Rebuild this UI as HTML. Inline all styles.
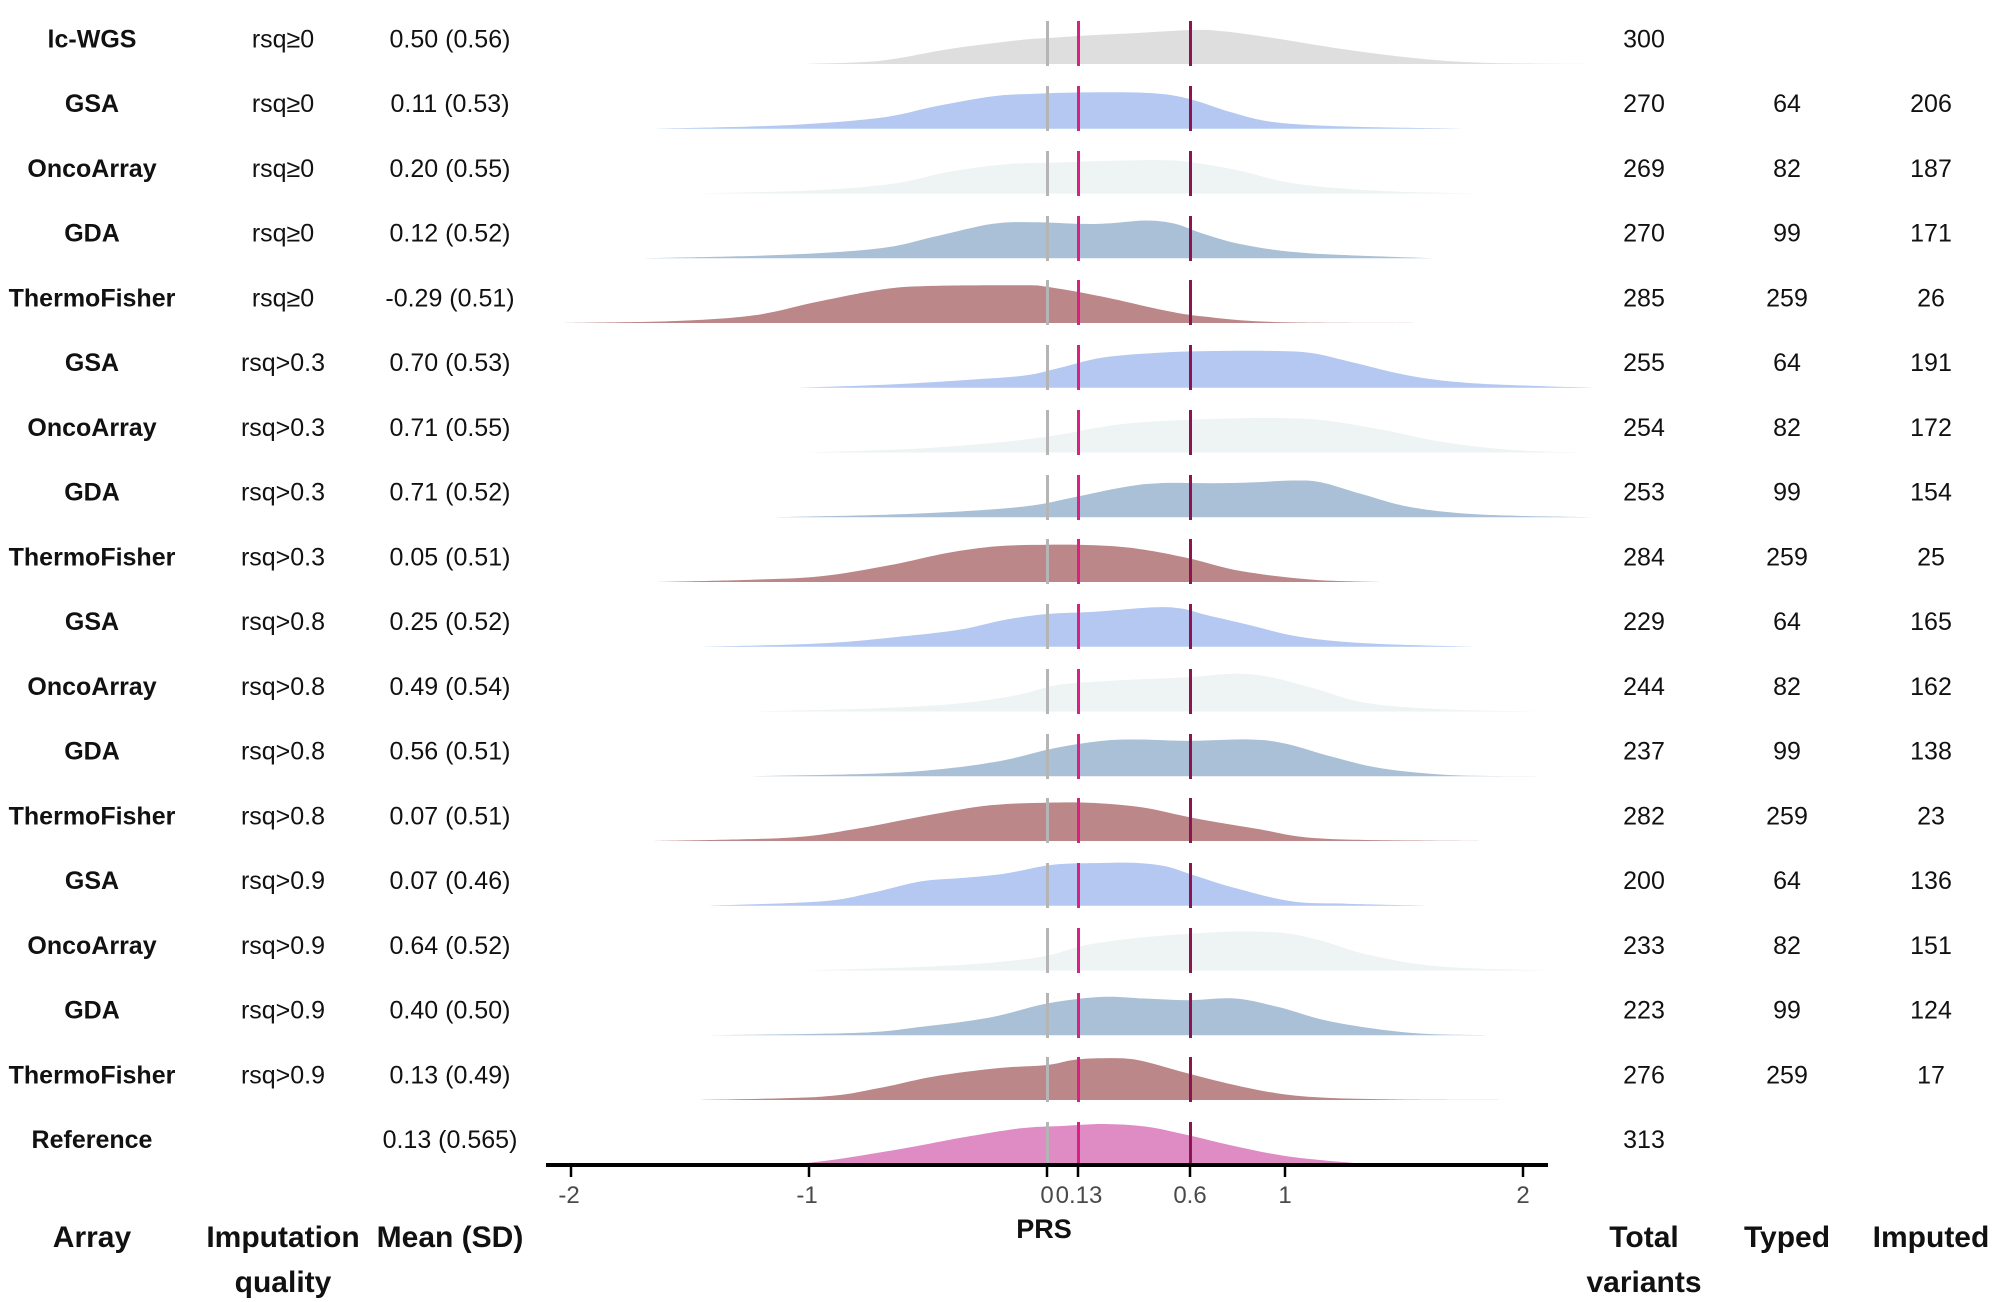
<!DOCTYPE html>
<html>
<head>
<meta charset="utf-8">
<style>
html,body{margin:0;padding:0;background:#fff;}
svg{display:block;}
text{font-family:"Liberation Sans",Arial,sans-serif;fill:#111;}
.lab{font-size:25px;font-weight:bold;text-anchor:middle;}
.val{font-size:25px;text-anchor:middle;}
.hdr{font-size:30px;font-weight:bold;text-anchor:middle;}
.tick{font-size:24px;text-anchor:middle;fill:#4a4a4a;}
</style>
</head>
<body>
<svg id="chart" width="2000" height="1302" viewBox="0 0 2000 1302" xmlns="http://www.w3.org/2000/svg">
<rect width="2000" height="1302" fill="#fff"/>

<g transform="translate(1047,64) scale(238,1)"><polygon class="r" fill="#dedede" points="-1.03,0 -0.70,-3.3 -0.41,-15 -0.11,-24 0.005,-26 0.15,-28.3 0.36,-30.7 0.61,-34 0.74,-32.7 0.95,-26 1.24,-15 1.54,-6 1.83,-1.3 2.33,0"/></g>
<g transform="translate(1047,128.7) scale(238,1)"><polygon class="r" fill="#b4c8f2" points="-1.645,0 -1.115,-3.3 -0.70,-11 -0.47,-22.3 -0.23,-32.3 -0.05,-35 0.15,-36.3 0.36,-36.3 0.5,-34.3 0.62,-28.3 0.77,-16.7 0.95,-6.7 1.24,-2.3 1.74,0"/></g>
<g transform="translate(1047,193.5) scale(238,1)"><polygon class="r" fill="#eef3f3" points="-1.47,0 -0.97,-3.3 -0.64,-10 -0.41,-21.7 -0.17,-29.3 0.06,-31 0.27,-32.7 0.48,-33.3 0.59,-31.7 0.80,-23.3 1.04,-10 1.39,-2.7 1.83,0"/></g>
<g transform="translate(1047,258.2) scale(238,1)"><polygon class="r" fill="#a9c0d6" points="-1.70,0 -1.115,-3.3 -0.70,-10 -0.47,-21.7 -0.23,-34.3 -0.05,-36 0.15,-34.3 0.27,-35 0.42,-37.7 0.54,-34.3 0.65,-25 0.83,-13.3 1.10,-5 1.62,0"/></g>
<g transform="translate(1047,323) scale(238,1)"><polygon class="r" fill="#bc8788" points="-2.03,0 -1.56,-2 -1.23,-7.7 -0.97,-21 -0.70,-33.3 -0.50,-37 -0.11,-37.7 0.005,-36 0.24,-26 0.48,-13.3 0.65,-6.7 0.95,-1 1.54,0"/></g>
<g transform="translate(1047,387.7) scale(238,1)"><polygon class="r" fill="#b4c8f2" points="-1.04,0 -0.65,-3.3 -0.30,-8.3 -0.09,-12.3 0.055,-20 0.23,-30 0.47,-35 0.70,-36.7 0.97,-36.7 1.12,-34.3 1.29,-25 1.53,-11.7 1.76,-5 2.06,-1.7 2.30,0"/></g>
<g transform="translate(1047,452.5) scale(238,1)"><polygon class="r" fill="#eef3f3" points="-1.01,0 -0.59,-3.3 -0.24,-9.3 0.025,-16.7 0.29,-27.7 0.53,-32 0.82,-34.3 1.0,-34.3 1.17,-32 1.41,-22.7 1.65,-11 1.94,-2.7 2.24,0"/></g>
<g transform="translate(1047,517.2) scale(238,1)"><polygon class="r" fill="#a9c0d6" points="-1.15,0 -0.65,-2.7 -0.30,-6.7 -0.063,-11.7 0.114,-20 0.32,-30 0.47,-34 0.70,-34 0.88,-35 1.03,-36.7 1.15,-35 1.32,-23.3 1.53,-10 1.82,-2.7 2.30,0"/></g>
<g transform="translate(1047,582) scale(238,1)"><polygon class="r" fill="#bc8788" points="-1.65,0 -1.24,-2.3 -0.95,-5.7 -0.65,-17.3 -0.42,-29 -0.21,-35.7 0,-37.3 0.20,-36.7 0.38,-33.3 0.59,-24 0.82,-10.7 1.12,-2.3 1.41,0"/></g>
<g transform="translate(1047,646.7) scale(238,1)"><polygon class="r" fill="#b4c8f2" points="-1.45,0 -0.95,-3.3 -0.59,-10.7 -0.36,-17.3 -0.18,-26.7 0,-32.7 0.20,-35 0.44,-39.3 0.56,-38.3 0.67,-31.7 0.85,-21.7 1.06,-10 1.35,-3.3 1.79,0"/></g>
<g transform="translate(1047,711.5) scale(238,1)"><polygon class="r" fill="#eef3f3" points="-1.24,0 -0.71,-3.3 -0.36,-8.3 -0.12,-16.7 0.05,-26.7 0.29,-31 0.59,-34.3 0.79,-37.7 0.94,-34.3 1.12,-23.3 1.35,-8.3 1.71,-1.7 2.12,0"/></g>
<g transform="translate(1047,776.2) scale(238,1)"><polygon class="r" fill="#a9c0d6" points="-1.24,0 -0.71,-2.7 -0.42,-7.7 -0.18,-16 0.025,-27.7 0.23,-35.3 0.38,-36.7 0.59,-35.3 0.85,-36.7 1.0,-32.7 1.20,-19.3 1.41,-7.7 1.71,-1 2.06,0"/></g>
<g transform="translate(1047,841) scale(238,1)"><polygon class="r" fill="#bc8788" points="-1.65,0 -1.09,-3.3 -0.80,-12.3 -0.50,-25.7 -0.24,-35.7 0,-38.3 0.20,-38 0.41,-33.3 0.61,-23.3 0.88,-12.3 1.17,-2.3 1.85,0"/></g>
<g transform="translate(1047,905.7) scale(238,1)"><polygon class="r" fill="#b4c8f2" points="-1.42,0 -0.95,-4.3 -0.74,-12.7 -0.53,-24.3 -0.36,-27.7 -0.18,-32 0.025,-41 0.23,-42.7 0.38,-42.7 0.50,-39.3 0.61,-31 0.79,-17.7 1.03,-4.3 1.26,-2 1.59,0"/></g>
<g transform="translate(1047,970.5) scale(238,1)"><polygon class="r" fill="#eef3f3" points="-1.01,0 -0.48,-4 -0.18,-9 0,-14.7 0.17,-25.7 0.41,-33.3 0.64,-37.3 0.82,-39 1.0,-37.3 1.15,-30 1.35,-15.7 1.65,-4 2.12,0"/></g>
<g transform="translate(1047,1035.2) scale(238,1)"><polygon class="r" fill="#a9c0d6" points="-1.42,0 -0.80,-2.3 -0.53,-8.3 -0.24,-17.7 0,-31.7 0.23,-38.3 0.41,-36.7 0.59,-35 0.79,-36.7 0.97,-28.3 1.20,-13.3 1.53,-2.3 1.85,0"/></g>
<g transform="translate(1047,1100) scale(238,1)"><polygon class="r" fill="#bc8788" points="-1.48,0 -0.95,-3.3 -0.71,-11.7 -0.48,-23.3 -0.21,-31.7 0,-35 0.11,-40 0.23,-41.7 0.38,-40 0.59,-26.7 0.82,-13.3 1.06,-4 1.41,-0.7 2.0,0"/></g>
<g transform="translate(1047,1165) scale(238,1)"><polygon class="r" fill="#df8cc5" points="-1.32,0 -1.0,-2.3 -0.64,-15 -0.35,-27.7 -0.11,-36.7 0.06,-39 0.24,-41 0.42,-38.3 0.59,-30 0.80,-18.3 1.04,-7.7 1.39,0"/></g>

<g stroke-width="3">
<g stroke="#b5b5b5">
<line x1="1047.5" x2="1047.5" y1="21" y2="66"/><line x1="1047.5" x2="1047.5" y1="86" y2="131"/><line x1="1047.5" x2="1047.5" y1="151" y2="196"/><line x1="1047.5" x2="1047.5" y1="216" y2="261"/><line x1="1047.5" x2="1047.5" y1="280" y2="325"/><line x1="1047.5" x2="1047.5" y1="345" y2="390"/><line x1="1047.5" x2="1047.5" y1="410" y2="455"/><line x1="1047.5" x2="1047.5" y1="475" y2="520"/><line x1="1047.5" x2="1047.5" y1="539" y2="584"/><line x1="1047.5" x2="1047.5" y1="604" y2="649"/><line x1="1047.5" x2="1047.5" y1="669" y2="714"/><line x1="1047.5" x2="1047.5" y1="734" y2="779"/><line x1="1047.5" x2="1047.5" y1="798" y2="843"/><line x1="1047.5" x2="1047.5" y1="863" y2="908"/><line x1="1047.5" x2="1047.5" y1="928" y2="973"/><line x1="1047.5" x2="1047.5" y1="993" y2="1038"/><line x1="1047.5" x2="1047.5" y1="1057" y2="1102"/><line x1="1047.5" x2="1047.5" y1="1122" y2="1165"/>
</g>
<g stroke="#dc1f85">
<line x1="1078.5" x2="1078.5" y1="21" y2="66"/><line x1="1078.5" x2="1078.5" y1="86" y2="131"/><line x1="1078.5" x2="1078.5" y1="151" y2="196"/><line x1="1078.5" x2="1078.5" y1="216" y2="261"/><line x1="1078.5" x2="1078.5" y1="280" y2="325"/><line x1="1078.5" x2="1078.5" y1="345" y2="390"/><line x1="1078.5" x2="1078.5" y1="410" y2="455"/><line x1="1078.5" x2="1078.5" y1="475" y2="520"/><line x1="1078.5" x2="1078.5" y1="539" y2="584"/><line x1="1078.5" x2="1078.5" y1="604" y2="649"/><line x1="1078.5" x2="1078.5" y1="669" y2="714"/><line x1="1078.5" x2="1078.5" y1="734" y2="779"/><line x1="1078.5" x2="1078.5" y1="798" y2="843"/><line x1="1078.5" x2="1078.5" y1="863" y2="908"/><line x1="1078.5" x2="1078.5" y1="928" y2="973"/><line x1="1078.5" x2="1078.5" y1="993" y2="1038"/><line x1="1078.5" x2="1078.5" y1="1057" y2="1102"/><line x1="1078.5" x2="1078.5" y1="1122" y2="1165"/>
</g>
<g stroke="#8c1450">
<line x1="1190.5" x2="1190.5" y1="21" y2="66"/><line x1="1190.5" x2="1190.5" y1="86" y2="131"/><line x1="1190.5" x2="1190.5" y1="151" y2="196"/><line x1="1190.5" x2="1190.5" y1="216" y2="261"/><line x1="1190.5" x2="1190.5" y1="280" y2="325"/><line x1="1190.5" x2="1190.5" y1="345" y2="390"/><line x1="1190.5" x2="1190.5" y1="410" y2="455"/><line x1="1190.5" x2="1190.5" y1="475" y2="520"/><line x1="1190.5" x2="1190.5" y1="539" y2="584"/><line x1="1190.5" x2="1190.5" y1="604" y2="649"/><line x1="1190.5" x2="1190.5" y1="669" y2="714"/><line x1="1190.5" x2="1190.5" y1="734" y2="779"/><line x1="1190.5" x2="1190.5" y1="798" y2="843"/><line x1="1190.5" x2="1190.5" y1="863" y2="908"/><line x1="1190.5" x2="1190.5" y1="928" y2="973"/><line x1="1190.5" x2="1190.5" y1="993" y2="1038"/><line x1="1190.5" x2="1190.5" y1="1057" y2="1102"/><line x1="1190.5" x2="1190.5" y1="1122" y2="1165"/>
</g>
</g>

<line x1="546" x2="1548" y1="1165" y2="1165" stroke="#000" stroke-width="4"/>
<g stroke="#000" stroke-width="2.5">
<line x1="571" x2="571" y1="1165" y2="1177"/>
<line x1="809" x2="809" y1="1165" y2="1177"/>
<line x1="1047" x2="1047" y1="1165" y2="1177"/>
<line x1="1078" x2="1078" y1="1165" y2="1177"/>
<line x1="1190" x2="1190" y1="1165" y2="1177"/>
<line x1="1285" x2="1285" y1="1165" y2="1177"/>
<line x1="1523" x2="1523" y1="1165" y2="1177"/>
</g>
<text class="tick" x="569" y="1203">-2</text>
<text class="tick" x="807" y="1203">-1</text>
<text class="tick" x="1047" y="1203">0</text>
<text class="tick" x="1079" y="1203">0.13</text>
<text class="tick" x="1190" y="1203">0.6</text>
<text class="tick" x="1285" y="1203">1</text>
<text class="tick" x="1523" y="1203">2</text>
<text x="1044" y="1238" style="font-size:27px;font-weight:bold;text-anchor:middle;">PRS</text>

<text class="lab" x="92" y="47.3">lc-WGS</text>
<text class="lab" x="92" y="112">GSA</text>
<text class="lab" x="92" y="176.8">OncoArray</text>
<text class="lab" x="92" y="241.5">GDA</text>
<text class="lab" x="92" y="306.3">ThermoFisher</text>
<text class="lab" x="92" y="371">GSA</text>
<text class="lab" x="92" y="435.8">OncoArray</text>
<text class="lab" x="92" y="500.5">GDA</text>
<text class="lab" x="92" y="565.3">ThermoFisher</text>
<text class="lab" x="92" y="630">GSA</text>
<text class="lab" x="92" y="694.8">OncoArray</text>
<text class="lab" x="92" y="759.5">GDA</text>
<text class="lab" x="92" y="824.3">ThermoFisher</text>
<text class="lab" x="92" y="889">GSA</text>
<text class="lab" x="92" y="953.8">OncoArray</text>
<text class="lab" x="92" y="1018.5">GDA</text>
<text class="lab" x="92" y="1083.3">ThermoFisher</text>
<text class="lab" x="92" y="1148">Reference</text>

<text class="val" x="283" y="47.3">rsq≥0</text>
<text class="val" x="283" y="112">rsq≥0</text>
<text class="val" x="283" y="176.8">rsq≥0</text>
<text class="val" x="283" y="241.5">rsq≥0</text>
<text class="val" x="283" y="306.3">rsq≥0</text>
<text class="val" x="283" y="371">rsq&gt;0.3</text>
<text class="val" x="283" y="435.8">rsq&gt;0.3</text>
<text class="val" x="283" y="500.5">rsq&gt;0.3</text>
<text class="val" x="283" y="565.3">rsq&gt;0.3</text>
<text class="val" x="283" y="630">rsq&gt;0.8</text>
<text class="val" x="283" y="694.8">rsq&gt;0.8</text>
<text class="val" x="283" y="759.5">rsq&gt;0.8</text>
<text class="val" x="283" y="824.3">rsq&gt;0.8</text>
<text class="val" x="283" y="889">rsq&gt;0.9</text>
<text class="val" x="283" y="953.8">rsq&gt;0.9</text>
<text class="val" x="283" y="1018.5">rsq&gt;0.9</text>
<text class="val" x="283" y="1083.3">rsq&gt;0.9</text>

<text class="val" x="450" y="47.3">0.50 (0.56)</text>
<text class="val" x="450" y="112">0.11 (0.53)</text>
<text class="val" x="450" y="176.8">0.20 (0.55)</text>
<text class="val" x="450" y="241.5">0.12 (0.52)</text>
<text class="val" x="450" y="306.3">-0.29 (0.51)</text>
<text class="val" x="450" y="371">0.70 (0.53)</text>
<text class="val" x="450" y="435.8">0.71 (0.55)</text>
<text class="val" x="450" y="500.5">0.71 (0.52)</text>
<text class="val" x="450" y="565.3">0.05 (0.51)</text>
<text class="val" x="450" y="630">0.25 (0.52)</text>
<text class="val" x="450" y="694.8">0.49 (0.54)</text>
<text class="val" x="450" y="759.5">0.56 (0.51)</text>
<text class="val" x="450" y="824.3">0.07 (0.51)</text>
<text class="val" x="450" y="889">0.07 (0.46)</text>
<text class="val" x="450" y="953.8">0.64 (0.52)</text>
<text class="val" x="450" y="1018.5">0.40 (0.50)</text>
<text class="val" x="450" y="1083.3">0.13 (0.49)</text>
<text class="val" x="450" y="1148">0.13 (0.565)</text>

<text class="val" x="1644" y="47.3">300</text>
<text class="val" x="1644" y="112">270</text>
<text class="val" x="1644" y="176.8">269</text>
<text class="val" x="1644" y="241.5">270</text>
<text class="val" x="1644" y="306.3">285</text>
<text class="val" x="1644" y="371">255</text>
<text class="val" x="1644" y="435.8">254</text>
<text class="val" x="1644" y="500.5">253</text>
<text class="val" x="1644" y="565.3">284</text>
<text class="val" x="1644" y="630">229</text>
<text class="val" x="1644" y="694.8">244</text>
<text class="val" x="1644" y="759.5">237</text>
<text class="val" x="1644" y="824.3">282</text>
<text class="val" x="1644" y="889">200</text>
<text class="val" x="1644" y="953.8">233</text>
<text class="val" x="1644" y="1018.5">223</text>
<text class="val" x="1644" y="1083.3">276</text>
<text class="val" x="1644" y="1148">313</text>

<text class="val" x="1787" y="112">64</text>
<text class="val" x="1787" y="176.8">82</text>
<text class="val" x="1787" y="241.5">99</text>
<text class="val" x="1787" y="306.3">259</text>
<text class="val" x="1787" y="371">64</text>
<text class="val" x="1787" y="435.8">82</text>
<text class="val" x="1787" y="500.5">99</text>
<text class="val" x="1787" y="565.3">259</text>
<text class="val" x="1787" y="630">64</text>
<text class="val" x="1787" y="694.8">82</text>
<text class="val" x="1787" y="759.5">99</text>
<text class="val" x="1787" y="824.3">259</text>
<text class="val" x="1787" y="889">64</text>
<text class="val" x="1787" y="953.8">82</text>
<text class="val" x="1787" y="1018.5">99</text>
<text class="val" x="1787" y="1083.3">259</text>

<text class="val" x="1931" y="112">206</text>
<text class="val" x="1931" y="176.8">187</text>
<text class="val" x="1931" y="241.5">171</text>
<text class="val" x="1931" y="306.3">26</text>
<text class="val" x="1931" y="371">191</text>
<text class="val" x="1931" y="435.8">172</text>
<text class="val" x="1931" y="500.5">154</text>
<text class="val" x="1931" y="565.3">25</text>
<text class="val" x="1931" y="630">165</text>
<text class="val" x="1931" y="694.8">162</text>
<text class="val" x="1931" y="759.5">138</text>
<text class="val" x="1931" y="824.3">23</text>
<text class="val" x="1931" y="889">136</text>
<text class="val" x="1931" y="953.8">151</text>
<text class="val" x="1931" y="1018.5">124</text>
<text class="val" x="1931" y="1083.3">17</text>

<text class="hdr" x="92" y="1247">Array</text>
<text class="hdr" x="283" y="1247">Imputation</text>
<text class="hdr" x="283" y="1292">quality</text>
<text class="hdr" x="450" y="1247">Mean (SD)</text>
<text class="hdr" x="1644" y="1247">Total</text>
<text class="hdr" x="1644" y="1292">variants</text>
<text class="hdr" x="1787" y="1247">Typed</text>
<text class="hdr" x="1931" y="1247">Imputed</text>
</svg>
<script>
(function(){
  var NS="http://www.w3.org/2000/svg";
  var polys=document.querySelectorAll("polygon.r");
  for(var k=0;k<polys.length;k++){
    var pg=polys[k];
    var raw=pg.getAttribute("points").trim().split(/\s+/);
    var p=raw.map(function(s){var a=s.split(",");return [parseFloat(a[0]),parseFloat(a[1])];});
    var n=p.length;
    var d="M"+p[0][0]+","+p[0][1];
    for(var i=0;i<n-1;i++){
      var p0=p[i>0?i-1:0],p1=p[i],p2=p[i+1],p3=p[i+2<n?i+2:n-1];
      var c1x=p1[0]+(p2[0]-p0[0])/6,c1y=p1[1]+(p2[1]-p0[1])/6;
      var c2x=p2[0]-(p3[0]-p1[0])/6,c2y=p2[1]-(p3[1]-p1[1])/6;
      if(c1y>0)c1y=0; if(c2y>0)c2y=0;
      d+=" C"+c1x+","+c1y+" "+c2x+","+c2y+" "+p2[0]+","+p2[1];
    }
    d+=" Z";
    var path=document.createElementNS(NS,"path");
    path.setAttribute("d",d);
    path.setAttribute("fill",pg.getAttribute("fill"));
    pg.parentNode.replaceChild(path,pg);
  }
})();
</script>
</body>
</html>
